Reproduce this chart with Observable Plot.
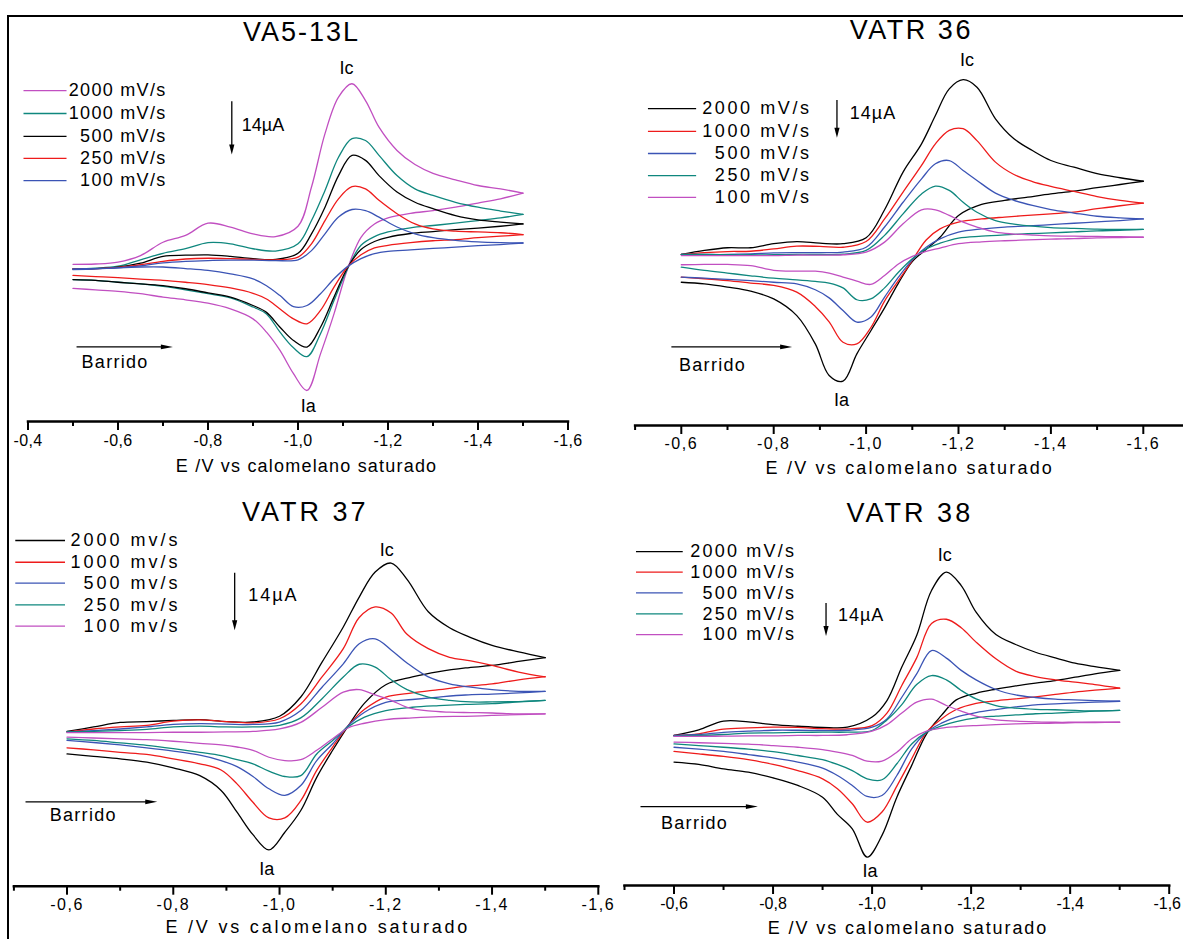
<!DOCTYPE html>
<html><head><meta charset="utf-8">
<script src="https://cdn.jsdelivr.net/npm/d3@7"></script>
<script src="https://cdn.jsdelivr.net/npm/@observablehq/plot@0.6"></script>
<style>
html,body{margin:0;padding:0;background:#fff;overflow:hidden}
#wrap{position:relative;width:1183px;height:939px;overflow:hidden;background:#fff}
#border{position:absolute;left:7px;top:15px;width:1200px;height:940px;border-top:2px solid #000;border-left:2px solid #000;box-sizing:border-box}
#wrap svg{position:absolute;left:0;top:0}
</style></head>
<body><div id="wrap"><div id="border"></div></div>
<script>
// ===== Data (E in V vs SCE, current in µA, cathodic up) =====
// --- VA5-13L ---
const va5_labels = ["2000 mV/s", "1000 mV/s", "500 mV/s", "250 mV/s", "100 mV/s"];
const va5_E_fwd = [-0.5,-0.55,-0.6,-0.65,-0.7,-0.75,-0.8,-0.85,-0.9,-0.95,-1.0,-1.03,-1.06,-1.09,-1.12,-1.15,-1.18,-1.22,-1.26,-1.3,-1.35,-1.4,-1.45,-1.5];
const va5_E_rev = [-1.5,-1.45,-1.4,-1.35,-1.3,-1.25,-1.2,-1.17,-1.14,-1.11,-1.08,-1.05,-1.02,-0.99,-0.96,-0.93,-0.9,-0.85,-0.8,-0.75,-0.7,-0.65,-0.6,-0.55,-0.5];
const va5_fwd_2000 = [0.3,0.4,0.9,2.6,6.1,7.9,11.1,10.1,8.3,7.6,10.3,20.6,34.6,44.2,47.7,43.3,36.3,30.2,26.5,24.2,22.5,21.0,20.1,19.0];
const va5_fwd_1000 = [-0.9,-0.7,-0.2,1.5,3.2,4.4,6.0,5.7,4.4,3.8,5.7,11.8,19.7,28.4,33.3,32.8,28.9,23.6,20.1,18.4,16.6,15.3,14.3,13.4];
const va5_fwd_500  = [-0.9,-0.8,-0.4,0.6,2.4,2.7,2.8,2.4,1.8,1.6,3.2,8.3,15.3,23.6,28.9,27.6,23.6,19.3,16.6,14.9,13.1,12.0,11.4,10.9];
const va5_fwd_250  = [-0.9,-0.8,-0.5,0.2,1.1,1.7,1.9,1.8,1.6,1.5,2.2,5.7,11.8,17.5,20.7,20.1,17.1,13.6,10.9,9.6,9.0,8.8,8.6,8.1];
const va5_fwd_100  = [-0.9,-0.8,-0.6,-0.1,0.7,1.1,1.3,1.4,1.4,1.3,1.5,3.9,8.3,12.7,14.7,14.4,12.7,10.1,8.3,7.3,6.6,6.2,6.0,5.9];
const va5_rev_2000 = [19.0,17.5,16.4,15.3,14.4,13.7,12.5,10.9,7.4,-0.9,-12.7,-23.2,-32.8,-28.4,-22.3,-17.5,-14.0,-11.4,-9.9,-9.0,-8.3,-7.4,-6.8,-6.4,-6.0];
const va5_rev_1000 = [13.4,12.5,11.8,11.1,10.5,9.9,8.8,7.6,5.3,-0.9,-9.2,-17.9,-23.9,-21.6,-17.5,-12.7,-10.9,-8.5,-7.4,-6.4,-5.5,-4.8,-4.4,-3.9,-3.7];
const va5_rev_500  = [10.9,10.3,9.8,9.4,8.9,8.4,7.4,6.3,4.2,-0.6,-8.3,-16.2,-21.4,-19.7,-16.2,-12.3,-10.5,-8.3,-7.2,-6.1,-5.3,-4.8,-4.4,-3.9,-3.7];
const va5_rev_250  = [8.1,7.7,7.3,6.8,6.5,6.0,5.3,4.6,2.8,-0.4,-5.7,-11.8,-15.3,-14.0,-11.4,-8.8,-7.3,-5.9,-5.0,-4.4,-3.9,-3.6,-3.2,-2.9,-2.6];
const va5_rev_100  = [5.9,5.5,5.2,4.8,4.5,4.1,3.7,3.1,1.8,-0.3,-3.5,-7.4,-10.5,-10.8,-7.9,-5.3,-3.5,-2.2,-1.3,-0.8,-0.4,-0.4,-0.6,-0.9,-1.1];

// --- VATR 36 ---
const v36_labels = ["2000 mV/s", "1000 mV/s", "500 mV/s", "250 mV/s", "100 mV/s"];
const v36_E_fwd = [-0.6,-0.65,-0.7,-0.75,-0.8,-0.85,-0.9,-0.95,-1.0,-1.04,-1.08,-1.12,-1.15,-1.18,-1.21,-1.24,-1.28,-1.32,-1.36,-1.4,-1.45,-1.5,-1.55,-1.6];
const v36_E_rev = [-1.6,-1.55,-1.5,-1.45,-1.4,-1.35,-1.3,-1.25,-1.2,-1.16,-1.13,-1.1,-1.07,-1.04,-1.01,-0.98,-0.95,-0.92,-0.89,-0.85,-0.8,-0.75,-0.7,-0.65,-0.6];
const v36_fwd_2000 = [0,1.5,2.5,2.5,4.0,4.8,4.2,4.0,6.2,16.6,30.6,41.1,51.6,61.5,64.9,62.1,50.4,43.0,38.6,34.9,32.4,30.0,28.5,27.2];
const v36_fwd_1000 = [0,0.7,1.1,1.2,2.1,3.1,3.0,2.7,4.8,13.2,23.2,33.1,41.1,46.1,46.7,42.3,34.3,29.7,27.1,25.3,23.4,21.5,20.1,19.1];
const v36_fwd_500  = [0,0,0,0.2,0.6,0.7,0.7,0.9,2.7,10.2,19.4,28.1,33.7,34.9,31.2,27.5,22.8,20.1,18.2,16.7,15.4,14.2,13.6,13.2];
const v36_fwd_250  = [0,0,-0.1,-0.1,-0.1,0,0,0.1,1.5,7.1,15.1,22.5,25.4,23.8,19.4,15.7,12.6,11.3,10.5,10.0,9.7,9.4,9.3,9.3];
const v36_fwd_100  = [-0.4,-0.4,-0.4,-0.4,-0.4,-0.2,-0.2,-0.1,0.9,4.6,11.4,16.6,16.6,14.5,12.0,10.2,8.3,7.6,7.2,6.9,6.8,6.7,6.6,6.4];
const v36_rev_2000 = [27.2,26.0,24.8,23.5,22.5,21.3,20.1,18.6,14.5,6.4,1.9,-2.6,-10.6,-19.8,-28.4,-36.9,-47.0,-44.9,-33.2,-22.7,-16.5,-13.6,-12.1,-10.9,-10.3];
const v36_rev_1000 = [19.1,18.1,17.0,15.7,15.1,14.5,13.9,13.2,12.0,9.5,5.4,-2.2,-9.7,-17.3,-27.2,-33.2,-32.6,-25.0,-19.3,-14.0,-11.5,-10.6,-9.7,-9.0,-8.4];
const v36_rev_500  = [13.2,12.6,12.1,11.6,11.1,10.6,10.2,9.5,8.3,5.8,2.7,-2.0,-8.4,-15.8,-23.3,-25.1,-20.8,-16.1,-13.1,-10.9,-10.3,-9.7,-9.2,-8.8,-8.4];
const v36_rev_250  = [9.3,9.0,8.8,8.4,8.0,7.7,7.3,6.8,6.1,4.2,2.1,-1.6,-6.6,-12.4,-16.5,-16.8,-12.4,-10.6,-10.0,-9.4,-8.8,-7.9,-6.9,-5.9,-4.7];
const v36_rev_100  = [6.4,6.3,6.2,5.9,5.7,5.4,5.1,4.7,4.0,2.4,1.2,-0.7,-3.5,-7.8,-11.1,-9.9,-8.4,-6.9,-6.2,-6.2,-5.9,-4.1,-3.7,-3.7,-3.8];

// --- VATR 37 ---
const v37_labels = ["2000 mv/s", "1000 mv/s", "500 mv/s", "250 mv/s", "100 mv/s"];
const v37_E_fwd = [-0.6,-0.65,-0.7,-0.75,-0.8,-0.85,-0.9,-0.95,-1.0,-1.04,-1.08,-1.12,-1.15,-1.18,-1.21,-1.24,-1.28,-1.32,-1.36,-1.4,-1.45,-1.5];
const v37_E_rev = [-1.5,-1.45,-1.4,-1.35,-1.3,-1.25,-1.2,-1.16,-1.13,-1.1,-1.07,-1.04,-1.01,-0.98,-0.95,-0.92,-0.89,-0.85,-0.8,-0.75,-0.7,-0.65,-0.6];
const v37_fwd_2000 = [-0.4,0.7,1.8,2.0,2.3,2.5,2.0,1.9,3.3,8.0,16.5,25.1,32.4,38.5,40.7,36.7,28.8,24.9,22.5,20.6,19.0,17.6];
const v37_fwd_1000 = [-0.5,0.2,0.7,1.1,2.1,2.4,2.0,1.7,2.7,6.3,12.9,19.8,27.4,30.0,28.5,23.3,19.8,17.7,16.8,15.7,14.1,12.9];
const v37_fwd_500  = [-0.5,-0.2,0.2,0.7,1.3,1.5,1.4,1.3,1.9,4.7,10.4,16.1,21.0,22.2,19.5,16.3,12.9,11.2,10.4,9.8,9.4,9.4];
const v37_fwd_250  = [-0.5,-0.4,-0.2,0.1,0.7,0.9,0.7,0.7,1.1,2.9,7.6,12.9,16.0,15.3,12.2,9.8,8.0,7.2,6.8,6.8,6.9,7.2];
const v37_fwd_100  = [-0.7,-0.7,-0.7,-0.7,-0.6,-0.6,-0.5,-0.4,0.2,1.8,5.5,9.2,9.8,8.5,7.2,5.5,4.6,4.3,4.2,4.1,3.9,3.9];
const v37_rev_2000 = [17.6,16.7,15.7,15.1,14.2,12.9,11.0,6.5,1.1,-5.0,-11.6,-19.7,-25.0,-29.3,-25.6,-20.1,-14.8,-11.2,-9.3,-7.9,-7.1,-6.5,-5.9];
const v37_rev_1000 = [13.0,12.2,11.2,10.6,9.8,9.0,8.0,5.0,1.1,-4.2,-9.9,-17.3,-21.5,-21.5,-17.7,-13.2,-9.8,-8.3,-7.1,-6.0,-5.5,-4.9,-4.4];
const v37_rev_500  = [9.4,9.0,8.7,8.5,8.0,7.4,6.7,4.3,1.1,-3.4,-7.5,-13.6,-16.0,-14.4,-11.4,-9.0,-7.5,-6.2,-5.2,-4.4,-3.7,-3.1,-2.6];
const v37_rev_250  = [7.2,6.8,6.4,6.2,5.9,5.5,4.7,3.1,0.8,-2.6,-5.9,-11.2,-11.4,-10.1,-8.3,-7.3,-6.3,-5.5,-4.6,-3.8,-3.2,-2.6,-2.2];
const v37_rev_100  = [3.9,3.7,3.5,3.3,3.2,2.9,2.5,1.6,0.5,-2.2,-5.0,-7.3,-7.5,-6.7,-5.0,-4.2,-3.7,-3.3,-2.8,-2.4,-2.2,-2.0,-1.8];

// --- VATR 38 ---
const v38_labels = ["2000 mV/s", "1000 mV/s", "500 mV/s", "250 mV/s", "100 mV/s"];
const v38_E_fwd = [-0.6,-0.65,-0.7,-0.75,-0.8,-0.85,-0.9,-0.95,-1.0,-1.03,-1.06,-1.09,-1.12,-1.15,-1.18,-1.21,-1.25,-1.29,-1.33,-1.37,-1.41,-1.45,-1.5];
const v38_E_rev = [-1.5,-1.45,-1.41,-1.37,-1.33,-1.29,-1.25,-1.21,-1.17,-1.14,-1.11,-1.08,-1.05,-1.02,-0.99,-0.96,-0.93,-0.9,-0.85,-0.8,-0.75,-0.7,-0.65,-0.6];
const v38_fwd_2000 = [-2.1,0.3,4.0,3.7,2.5,1.8,1.3,1.4,5.7,12.7,26.9,40.3,59.4,67.2,61.5,50.2,40.7,36.5,33.2,30.8,28.6,27.1,25.5];
const v38_fwd_1000 = [-2.1,-1.4,0.6,1.1,1.4,1.3,0.8,0.7,2.1,7.4,19.1,30.8,45.4,47.2,43.6,37.5,30.4,25.2,22.9,21.5,20.5,19.5,18.0];
const v38_fwd_500  = [-2.1,-1.7,-0.8,-0.3,0.1,0.1,0,0.1,1.4,4.9,14.1,24.0,33.9,30.7,25.5,21.5,17.4,15.1,14.0,13.3,13.0,12.7,12.4];
const v38_fwd_250  = [-2.4,-2.1,-1.7,-1.1,-1.0,-0.8,-0.7,-0.7,0,4.5,11.0,19.5,23.3,21.5,17.0,13.4,10.6,9.5,9.0,8.8,8.5,8.3,8.5];
const v38_fwd_100  = [-2.5,-2.5,-2.4,-2.3,-2.3,-2.1,-2.1,-1.8,-0.3,2.5,7.4,12.0,13.3,10.6,8.2,6.1,4.5,4.0,3.7,3.5,3.5,3.5,3.5];
const v38_rev_2000 = [25.5,24.0,22.6,21.2,20.1,18.9,17.5,15.8,13.0,6.4,-1.4,-14.8,-28.3,-44.5,-53.7,-41.7,-35.6,-28.3,-23.3,-20.1,-17.7,-16.3,-14.4,-13.4];
const v38_rev_1000 = [18.0,17.1,16.3,15.3,14.3,13.4,12.6,11.5,8.9,4.9,-0.7,-12.0,-23.6,-34.6,-38.9,-31.1,-24.7,-20.5,-17.0,-14.4,-12.4,-11.0,-9.9,-8.9];
const v38_rev_500  = [12.4,12.0,11.7,11.3,10.9,10.0,8.9,7.6,5.7,3.1,-0.7,-7.8,-19.1,-27.6,-28.0,-23.3,-19.1,-16.0,-13.4,-11.6,-10.2,-8.9,-7.9,-7.1];
const v38_rev_250  = [8.5,8.2,7.8,7.4,7.1,6.6,6.1,5.4,3.8,2.0,-0.7,-5.7,-14.1,-20.9,-20.5,-17.0,-14.4,-12.4,-10.6,-9.0,-7.9,-7.1,-6.4,-5.7];
const v38_rev_100  = [3.5,3.4,3.3,3.1,3.0,2.8,2.5,2.1,1.6,1.0,-0.3,-3.5,-9.2,-13.0,-13.0,-10.6,-9.2,-8.1,-7.1,-6.4,-5.8,-5.5,-5.2,-4.9];

// --- tick values ---
const ticks_A  = [-0.4,-0.6,-0.8,-1.0,-1.2,-1.4,-1.6];
const minor_A  = [-0.5,-0.7,-0.9,-1.1,-1.3,-1.5];
const ticks_B  = [-0.6,-0.8,-1.0,-1.2,-1.4,-1.6];
const minor_B  = [-0.5,-0.7,-0.9,-1.1,-1.3,-1.5,-1.7];
const minor_C  = [-0.5,-0.7,-0.9,-1.1,-1.3,-1.5];
const xTitle = "E /V vs calomelano saturado";
const scaleLabel = "14µA";

// ===== Styling / layout =====
const FONT = "'Liberation Sans', Arial, Helvetica, sans-serif";
const COL = {black:"#000000", red:"#ee1b1b", blue:"#3b54b5", teal:"#0f877e", magenta:"#c14fc1"};
const W = 1190, H = 939;

const panels = [
  { title:"VA5-13L", titleLS:2, labels:va5_labels,
    colors:[COL.magenta, COL.teal, COL.black, COL.red, COL.blue],
    E_fwd:va5_E_fwd, E_rev:va5_E_rev,
    fwd:[va5_fwd_2000,va5_fwd_1000,va5_fwd_500,va5_fwd_250,va5_fwd_100],
    rev:[va5_rev_2000,va5_rev_1000,va5_rev_500,va5_rev_250,va5_rev_100],
    xDomain:[-0.4,-1.6], majors:ticks_A, minors:minor_A,
    axis:{left:27.5, right:567.5, y:421, pad:4, ls:0.3},
    y:{domain:[-40,60], zero:265, k:3.81},
    titlePos:[-1.008,61.2], ic:[-1.108,51.7], ia:[-1.023,-37.0],
    legend:{x1:-0.390, x2:-0.4856, xt:-0.7078, rows:[45.9,39.9,33.9,28.1,22.3], ls:1.3},
    bar:{x:-0.854, y:43.0, tx:-0.875, ty:36.7, ls:0},
    scan:{x1:-0.509, x2:-0.723, y:-21.5, tx:-0.519, ty:-25.4},
    xt:[-1.019,-52.8], xtLS:1.2 },
  { title:"VATR 36", titleLS:2.5, labels:v36_labels,
    colors:[COL.black, COL.red, COL.blue, COL.teal, COL.magenta],
    E_fwd:v36_E_fwd, E_rev:v36_E_rev,
    fwd:[v36_fwd_2000,v36_fwd_1000,v36_fwd_500,v36_fwd_250,v36_fwd_100],
    rev:[v36_rev_2000,v36_rev_1000,v36_rev_500,v36_rev_250,v36_rev_100],
    xDomain:[-0.5,-1.7], majors:ticks_B, minors:minor_B,
    axis:{left:634.6, right:1189, y:425, pad:3, ls:1.5},
    y:{domain:[-55,75], zero:254, k:2.693},
    titlePos:[-1.098,83.2], ic:[-1.2185,72.0], ia:[-0.947,-54.2],
    legend:{x1:-0.5278, x2:-0.6321, xt:-0.8822, rows:[54.2,45.7,37.5,29.3,21.2], ls:2.6},
    bar:{x:-0.938, y:57.2, tx:-0.9646, ty:52.5, ls:1},
    scan:{x1:-0.5796, x2:-0.841, y:-34.5, tx:-0.595, ty:-41.2},
    xt:[-1.0946,-79.5], xtLS:2.2 },
  { title:"VATR 37", titleLS:3, labels:v37_labels,
    colors:[COL.black, COL.red, COL.blue, COL.teal, COL.magenta],
    E_fwd:v37_E_fwd, E_rev:v37_E_rev,
    fwd:[v37_fwd_2000,v37_fwd_1000,v37_fwd_500,v37_fwd_250,v37_fwd_100],
    rev:[v37_rev_2000,v37_rev_1000,v37_rev_500,v37_rev_250,v37_rev_100],
    xDomain:[-0.5,-1.6], majors:ticks_B, minors:minor_C,
    axis:{left:13.4, right:597.8, y:885.7, pad:3.5, ls:1.5},
    y:{domain:[-35,50], zero:729.3, k:4.097},
    titlePos:[-1.0482,53.0], ic:[-1.2017,43.8], ia:[-0.976,-34.1],
    legend:{x1:-0.5026, x2:-0.5962, xt:-0.8135, rows:[46.2,40.9,35.8,30.5,25.3], ls:3},
    bar:{x:-0.9165, y:38.2, tx:-0.9409, ty:32.8, ls:2},
    scan:{x1:-0.5228, x2:-0.7708, y:-17.7, tx:-0.5674, ty:-20.9},
    xt:[-1.072,-48.3], xtLS:2.8 },
  { title:"VATR 38", titleLS:3, labels:v38_labels,
    colors:[COL.black, COL.red, COL.blue, COL.teal, COL.magenta],
    E_fwd:v38_E_fwd, E_rev:v38_E_rev,
    fwd:[v38_fwd_2000,v38_fwd_1000,v38_fwd_500,v38_fwd_250,v38_fwd_100],
    rev:[v38_rev_2000,v38_rev_1000,v38_rev_500,v38_rev_250,v38_rev_100],
    xDomain:[-0.5,-1.6], majors:ticks_B, minors:minor_C,
    axis:{left:624, right:1168.7, y:885, pad:3, ls:0, lastDx:-2},
    y:{domain:[-60,75], zero:730, k:2.357},
    titlePos:[-1.0763,92.1], ic:[-1.1466,74.2], ia:[-0.996,-59.7],
    legend:{x1:-0.5232, x2:-0.6176, xt:-0.8466, rows:[75.9,67.2,58.4,49.5,40.7], ls:2.2},
    bar:{x:-0.908, y:53.9, tx:-0.931, ty:48.8, ls:1},
    scan:{x1:-0.5333, x2:-0.7704, y:-32.5, tx:-0.5737, ty:-39.5},
    xt:[-1.0724,-84.1], xtLS:1.9 }
];

const fmt = d => d.toFixed(1).replace(".", ",");

function txt(x, y, t, opts = {}) {
  return Plot.text([{x, y, t}], {x:"x", y:"y", text:"t", fill:"#000", fontSize:18, ...opts});
}

function renderPanel(p) {
  const yRange = [p.y.zero - p.y.domain[0]*p.y.k, p.y.zero - p.y.domain[1]*p.y.k];
  const marks = [];
  p.fwd.forEach((vals, i) => {
    const f = p.E_fwd.map((E, j) => ({E, I: vals[j]}));
    const r = p.E_rev.map((E, j) => ({E, I: p.rev[i][j]}));
    marks.push(Plot.line(f, {x:"E", y:"I", stroke:p.colors[i], strokeWidth:1.3, curve:"catmull-rom"}));
    marks.push(Plot.line(r, {x:"E", y:"I", stroke:p.colors[i], strokeWidth:1.3, curve:"catmull-rom"}));
  });
  p.labels.forEach((lab, i) => {
    const yv = p.legend.rows[i];
    marks.push(Plot.link([{a:p.legend.x1, b:p.legend.x2, y:yv}], {x1:"a", x2:"b", y1:"y", y2:"y", stroke:p.colors[i], strokeWidth:1.3}));
    marks.push(txt(p.legend.xt, yv, lab, {textAnchor:"end"}));
  });
  marks.push(txt(p.titlePos[0], p.titlePos[1], p.title, {fontSize:27}));
  marks.push(txt(p.ic[0], p.ic[1], "Ic"));
  marks.push(txt(p.ia[0], p.ia[1], "Ia"));
  marks.push(txt(p.bar.tx, p.bar.ty, scaleLabel, {textAnchor:"start"}));
  marks.push(txt(p.scan.tx, p.scan.ty, "Barrido", {textAnchor:"start"}));
  marks.push(txt(p.xt[0], p.xt[1], xTitle));
  marks.push(Plot.frame({anchor:"bottom", strokeWidth:2.5, stroke:"#000"}));
  marks.push(Plot.axisX({anchor:"bottom", ticks:p.majors, tickSize:9, tickPadding:p.axis.pad, tickFormat:fmt, fontSize:16, strokeWidth:2, label:null}));
  marks.push(Plot.axisX({anchor:"bottom", ticks:p.minors, tickSize:5, tickFormat:() => "", strokeWidth:2, label:null}));

  const svg = Plot.plot({
    width:W, height:H,
    marginLeft:p.axis.left, marginRight:W - p.axis.right, marginTop:0, marginBottom:H - p.axis.y,
    x:{domain:p.xDomain},
    y:{domain:p.y.domain, range:yRange, axis:null},
    style:{fontFamily:FONT, background:"transparent", overflow:"visible", maxWidth:"none", color:"#000"},
    marks
  });
  svg.style.background = "none";
  svg.style.maxWidth = "none";
  svg.style.height = H + "px";
  svg.style.width = W + "px";

  // letter spacing like the original export
  const lsMap = new Map();
  lsMap.set(p.title, p.titleLS);
  p.labels.forEach(l => lsMap.set(l, p.legend.ls));
  lsMap.set(scaleLabel, p.bar.ls);
  lsMap.set("Barrido", 1.3);
  lsMap.set(xTitle, p.xtLS);
  const lastTick = fmt(p.majors[p.majors.length - 1]);
  d3.select(svg).selectAll("text").each(function() {
    const t = this.textContent;
    if (lsMap.has(t)) this.style.letterSpacing = lsMap.get(t) + "px";
    else if (/^-\d,\d$/.test(t)) {
      this.style.letterSpacing = p.axis.ls + "px";
      if (p.axis.lastDx && t === lastTick) this.setAttribute("dx", p.axis.lastDx);
    }
  });

  // arrows with filled heads, positioned through the plot's scales
  const sx = svg.scale("x"), sy = svg.scale("y");
  const g = d3.select(svg).append("g");
  function arrow(x1, y1, x2, y2, hl, hw) {
    const a = [sx.apply(x1), sy.apply(y1)], b = [sx.apply(x2), sy.apply(y2)];
    const dx = b[0]-a[0], dy = b[1]-a[1], L = Math.hypot(dx, dy), ux = dx/L, uy = dy/L;
    const base = [b[0]-ux*hl, b[1]-uy*hl];
    g.append("line").attr("x1",a[0]).attr("y1",a[1]).attr("x2",base[0]+ux*1).attr("y2",base[1]+uy*1)
      .attr("stroke","#000").attr("stroke-width",1.3);
    g.append("path").attr("d",`M${b[0]},${b[1]}L${base[0]-uy*hw},${base[1]+ux*hw}L${base[0]+uy*hw},${base[1]-ux*hw}Z`)
      .attr("fill","#000");
  }
  arrow(p.bar.x, p.bar.y, p.bar.x, p.bar.y - 14, 10, 2.6);
  arrow(p.scan.x1, p.scan.y, p.scan.x2, p.scan.y, 12, 2.4);
  return svg;
}

const wrap = document.getElementById("wrap");
panels.forEach(p => wrap.appendChild(renderPanel(p)));
</script>
</body></html>
